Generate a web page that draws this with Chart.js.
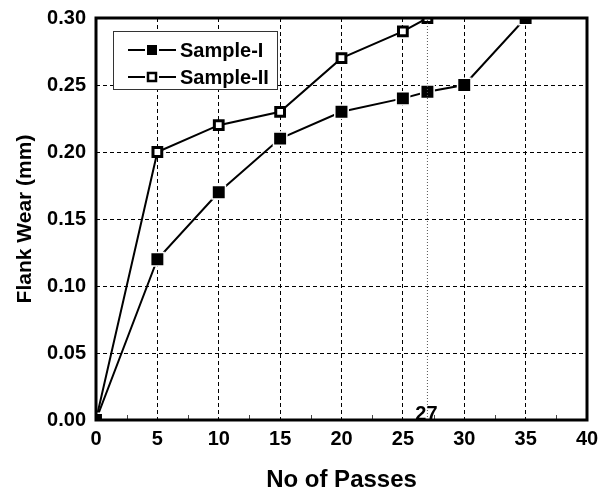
<!DOCTYPE html>
<html>
<head>
<meta charset="utf-8">
<script src="https://cdn.jsdelivr.net/npm/chart.js@4.4.1/dist/chart.umd.min.js"></script>
<style>
  html, body { margin: 0; padding: 0; background: #fff; }
  #wrap { width: 600px; height: 487px; }
</style>
</head>
<body>
<div id="wrap"><canvas id="wearChart" width="600" height="487"></canvas></div>
<script>
// data
const passesI = [0, 5, 10, 15, 20, 25, 27, 30, 35];
const wearI = [0, 0.12, 0.17, 0.21, 0.23, 0.24, 0.245, 0.25, 0.30];
const passesII = [0, 5, 10, 15, 20, 25, 27];
const wearII = [0, 0.20, 0.22, 0.23, 0.27, 0.29, 0.30];
const markLine = [27];
const markLabel = '27';
const seriesNames = ['Sample-I', 'Sample-II'];

const toPoints = (xs, ys) => xs.map((x, i) => ({ x: x, y: ys[i] }));
const FONT = '"Liberation Sans", Arial, sans-serif';

// frame, minor ticks, "27" label and the legend box
const extras = {
    id: 'extras',
    afterDatasetsDraw(chart) {
        const { ctx, chartArea: a, scales } = chart;
        const xs = scales.x;
        ctx.save();

        // minor ticks along the bottom
        ctx.strokeStyle = '#444';
        ctx.lineWidth = 1;
        for (let v = 2.5; v < 40; v += 5) {
            const px = Math.round(xs.getPixelForValue(v)) + 0.5;
            ctx.beginPath();
            ctx.moveTo(px, a.bottom);
            ctx.lineTo(px, a.bottom - 5);
            ctx.stroke();
        }

        // label of the marked pass
        ctx.fillStyle = '#000';
        ctx.font = 'bold 20px ' + FONT;
        ctx.textAlign = 'center';
        ctx.textBaseline = 'alphabetic';
        ctx.fillText(markLabel, xs.getPixelForValue(markLine[0]) - 1, a.bottom);

        // frame
        ctx.strokeStyle = '#000';
        ctx.lineWidth = 3;
        ctx.strokeRect(a.left, a.top, a.right - a.left, a.bottom - a.top);

        // legend
        const lx = 113, ly = 31, lw = 164, lh = 58;
        ctx.fillStyle = '#fff';
        ctx.fillRect(lx, ly, lw, lh);
        ctx.lineWidth = 1;
        ctx.strokeStyle = '#333';
        ctx.strokeRect(lx + 0.5, ly + 0.5, lw, lh);

        const rows = [
            { y: ly + 19, filled: true },
            { y: ly + 46, filled: false }
        ];
        rows.forEach((r, i) => {
            ctx.strokeStyle = '#000';
            ctx.lineWidth = 2;
            ctx.beginPath();
            ctx.moveTo(lx + 15, r.y);
            ctx.lineTo(lx + 63, r.y);
            ctx.stroke();
            const mx = lx + 39;
            if (r.filled) {
                ctx.fillStyle = '#fff';
                ctx.fillRect(mx - 7, r.y - 7, 14, 14);
                ctx.fillStyle = '#000';
                ctx.fillRect(mx - 5, r.y - 5, 10, 10);
            } else {
                ctx.fillStyle = '#fff';
                ctx.fillRect(mx - 7, r.y - 7, 14, 14);
                ctx.lineWidth = 2.5;
                ctx.strokeRect(mx - 4, r.y - 4, 8, 8);
            }
            ctx.fillStyle = '#000';
            ctx.font = 'bold 20px ' + FONT;
            ctx.textAlign = 'left';
            ctx.textBaseline = 'middle';
            ctx.fillText(seriesNames[i], lx + 67, r.y + 1);
        });
        ctx.restore();
    }
};

// keep the plot box fixed: no extra room for edge labels
function noEdgePad(s) {
    s.paddingTop = 0;
    s.paddingBottom = 0;
    s.paddingLeft = 0;
    s.paddingRight = 0;
}

const ctx = document.getElementById('wearChart');
new Chart(ctx, {
    type: 'line',
    data: {
        datasets: [
            {
                label: 'mark',
                data: [{ x: markLine[0], y: 0 }, { x: markLine[0], y: 0.30 }],
                borderColor: '#555',
                borderWidth: 1,
                borderDash: [1, 2],
                pointRadius: 0,
                clip: 0
            },
            {
                label: seriesNames[0],
                data: toPoints(passesI, wearI),
                borderColor: '#000',
                borderWidth: 2,
                pointStyle: 'rect',
                pointRadius: 9.5,
                pointBackgroundColor: '#000',
                pointBorderColor: '#fff',
                pointBorderWidth: 1.5,
                clip: 0
            },
            {
                label: seriesNames[1],
                data: toPoints(passesII, wearII),
                borderColor: '#000',
                borderWidth: 2,
                pointStyle: 'rect',
                pointRadius: 6.2,
                pointBackgroundColor: '#fff',
                pointBorderColor: '#000',
                pointBorderWidth: 3,
                clip: 0
            }
        ]
    },
    options: {
        responsive: false,
        animation: false,
        layout: { padding: { top: 18, right: 13, bottom: 0, left: 0 } },
        plugins: { legend: { display: false }, tooltip: { enabled: false } },
        scales: {
            x: {
                type: 'linear',
                min: 0, max: 40,
                ticks: {
                    stepSize: 5, color: '#000', padding: 7,
                    font: { family: FONT, size: 20, weight: 'bold' }
                },
                grid: { color: '#000', lineWidth: 1, drawTicks: false },
                border: { display: false, dash: [4, 3] },
                title: {
                    display: true, text: 'No of Passes', color: '#000',
                    font: { family: FONT, size: 24, weight: 'bold', lineHeight: 1 },
                    padding: { top: 0, bottom: -5 }
                },
                afterFit(s) { s.height = 67; noEdgePad(s); }
            },
            y: {
                min: 0, max: 0.30,
                ticks: {
                    stepSize: 0.05, color: '#000', padding: 10,
                    font: { family: FONT, size: 20, weight: 'bold' },
                    callback: v => v.toFixed(2)
                },
                grid: { color: '#000', lineWidth: 1, drawTicks: false },
                border: { display: false, dash: [4, 3] },
                title: {
                    display: true, text: 'Flank Wear (mm)', color: '#000',
                    font: { family: FONT, size: 21, weight: 'bold' },
                    padding: { top: 13, bottom: 0 }
                },
                afterFit(s) { s.width = 96; noEdgePad(s); }
            }
        }
    },
    plugins: [extras]
});
</script>
</body>
</html>
